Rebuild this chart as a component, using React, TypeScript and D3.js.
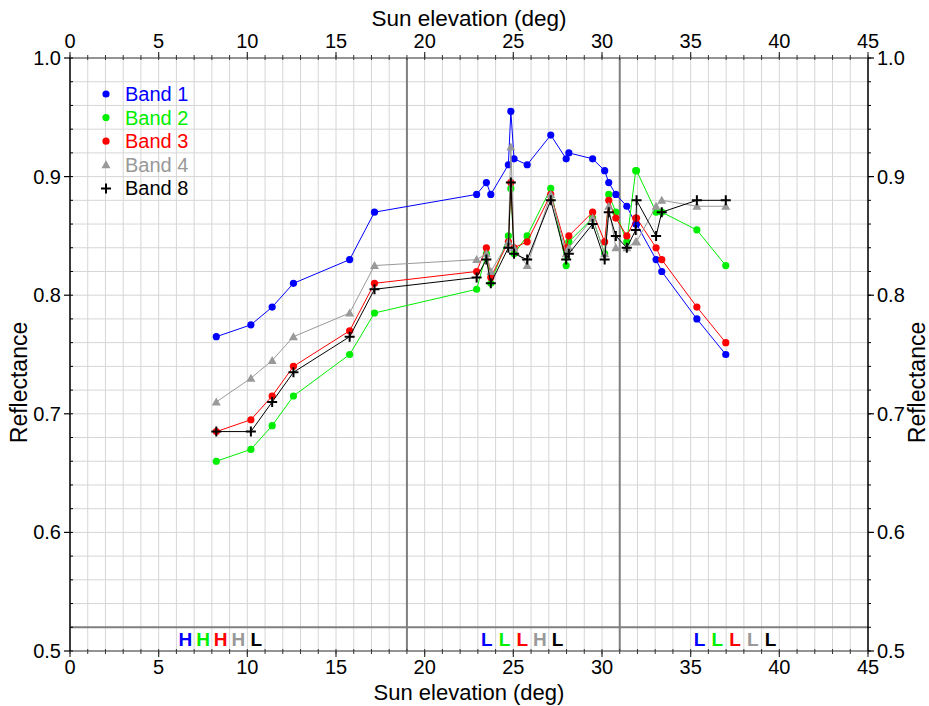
import React from "react";
import * as d3 from "d3";

const sunElevation = [8.25, 10.2, 11.4, 12.6, 15.77, 17.17, 22.93, 23.48, 23.73, 24.72, 24.86, 25.04, 25.78, 27.11, 27.98, 28.13, 29.47, 30.15, 30.38, 30.78, 31.4, 31.9, 31.95, 33.05, 33.37, 35.35, 36.98];
const band1 = [0.765, 0.775, 0.79, 0.81, 0.83, 0.87, 0.885, 0.895, 0.885, 0.91, 0.955, 0.915, 0.91, 0.935, 0.915, 0.92, 0.915, 0.905, 0.895, 0.885, 0.875, 0.86, 0.86, 0.83, 0.82, 0.78, 0.75];
const band2 = [0.66, 0.67, 0.69, 0.715, 0.75, 0.785, 0.805, 0.835, 0.81, 0.85, 0.89, 0.835, 0.85, 0.89, 0.825, 0.845, 0.865, 0.835, 0.885, 0.87, 0.845, 0.905, 0.905, 0.87, 0.87, 0.855, 0.825];
const band3 = [0.685, 0.695, 0.715, 0.74, 0.77, 0.81, 0.82, 0.84, 0.815, 0.845, 0.895, 0.84, 0.845, 0.885, 0.84, 0.85, 0.87, 0.845, 0.88, 0.865, 0.85, 0.865, 0.865, 0.84, 0.83, 0.79, 0.76];
const band4 = [0.71, 0.73, 0.745, 0.765, 0.785, 0.825, 0.83, 0.835, 0.82, 0.845, 0.925, 0.84, 0.825, 0.885, 0.835, 0.84, 0.865, 0.835, 0.875, 0.84, 0.84, 0.845, 0.845, 0.875, 0.88, 0.875, 0.875];
const band8 = [0.685, 0.685, 0.71, 0.735, 0.765, 0.805, 0.815, 0.83, 0.81, 0.84, 0.895, 0.835, 0.83, 0.88, 0.83, 0.835, 0.86, 0.83, 0.87, 0.85, 0.84, 0.855, 0.88, 0.85, 0.87, 0.88, 0.88];

const bandNames = ["Band 1", "Band 2", "Band 3", "Band 4", "Band 8"];
const bandColors = ["#0000ff", "#00ee00", "#ff0000", "#999999", "#000000"];
const bandMarkers = ["circle", "circle", "circle", "triangle", "cross"];
const bandValues = [band1, band2, band3, band4, band8];

const xTicks = [0, 5, 10, 15, 20, 25, 30, 35, 40, 45];
const yTicks = [0.5, 0.6, 0.7, 0.8, 0.9, 1.0];
const dividerX = [19, 31];
const dividerY = 0.52;

// flag letters: group start positions (sun elevation of first letter center) and letters per band
const flagStarts = [6.5, 23.5, 35.5];
const flagLetters = [
  ["H", "H", "H", "H", "L"],
  ["L", "L", "L", "H", "L"],
  ["L", "L", "L", "L", "L"],
];

const W = 929;
const H = 706;
const left = 70;
const right = 868;
const top = 58;
const bottom = 651;
const FONT = "'Liberation Sans', Arial, Helvetica, sans-serif";

function Marker({ kind, x, y, color }: { kind: string; x: number; y: number; color: string }) {
  if (kind === "circle") return <circle cx={x} cy={y} r={3.6} fill={color} />;
  if (kind === "triangle")
    return <path d={`M${x},${y - 4.5}L${x + 4.5},${y + 3.5}L${x - 4.5},${y + 3.5}Z`} fill={color} />;
  return (
    <path d={`M${x - 5},${y}H${x + 5}M${x},${y - 5}V${y + 5}`} stroke={color} strokeWidth={2} fill="none" />
  );
}

export default function App() {
  const x = d3.scaleLinear().domain([0, 45]).range([left, right]);
  const y = d3.scaleLinear().domain([0.5, 1.0]).range([bottom, top]);
  const minorX = d3.range(0, 46, 1);
  const minorY = d3.range(0, 26).map((i) => 0.5 + i * 0.02);
  const line = d3
    .line<[number, number]>()
    .x((d) => x(d[0]))
    .y((d) => y(d[1]));

  return (
    <svg width={W} height={H} style={{ position: "absolute", left: 0, top: 0, background: "#fff" }} fontFamily={FONT}>
      <rect width={W} height={H} fill="#fff" />
      {/* grid */}
      {minorX.map((v) => (
        <line key={"gx" + v} x1={x(v)} x2={x(v)} y1={top} y2={bottom} stroke="#d6d6d6" strokeWidth={1} />
      ))}
      {minorY.map((v, i) => (
        <line key={"gy" + i} x1={left} x2={right} y1={y(v)} y2={y(v)} stroke="#d6d6d6" strokeWidth={1} />
      ))}
      {/* dividers */}
      {dividerX.map((v) => (
        <line key={"dx" + v} x1={x(v)} x2={x(v)} y1={top} y2={bottom} stroke="#808080" strokeWidth={2} />
      ))}
      <line x1={left} x2={right} y1={y(dividerY)} y2={y(dividerY)} stroke="#808080" strokeWidth={2} />

      {/* axes */}
      <line x1={left} x2={right} y1={top} y2={top} stroke="#777" strokeWidth={1.5} />
      <line x1={left} x2={right} y1={bottom} y2={bottom} stroke="#777" strokeWidth={1.5} />
      <line x1={left} x2={left} y1={top} y2={bottom} stroke="#000" strokeWidth={1.5} />
      <line x1={right} x2={right} y1={top} y2={bottom} stroke="#000" strokeWidth={1.5} />

      {/* minor ticks */}
      {minorX.map((v) => (
        <g key={"tx" + v}>
          <line x1={x(v)} x2={x(v)} y1={top - 3} y2={top + 2} stroke="#333" />
          <line x1={x(v)} x2={x(v)} y1={bottom - 2} y2={bottom + 3} stroke="#333" />
        </g>
      ))}
      {minorY.map((v, i) => (
        <g key={"ty" + i}>
          <line x1={left} x2={left + 3} y1={y(v)} y2={y(v)} stroke="#000" />
          <line x1={right} x2={right + 3} y1={y(v)} y2={y(v)} stroke="#000" />
        </g>
      ))}
      {/* major ticks + labels */}
      {xTicks.map((v) => (
        <g key={"mx" + v}>
          <line x1={x(v)} x2={x(v)} y1={top - 6} y2={top} stroke="#333" strokeWidth={1.2} />
          <line x1={x(v)} x2={x(v)} y1={bottom} y2={bottom + 6} stroke="#333" strokeWidth={1.2} />
          <text x={x(v)} y={48} textAnchor="middle" fontSize={20}>
            {v}
          </text>
          <text x={x(v)} y={674} textAnchor="middle" fontSize={20}>
            {v}
          </text>
        </g>
      ))}
      {yTicks.map((v) => (
        <g key={"my" + v}>
          <line x1={left - 6} x2={left} y1={y(v)} y2={y(v)} stroke="#000" strokeWidth={1.2} />
          <line x1={right} x2={right + 6} y1={y(v)} y2={y(v)} stroke="#000" strokeWidth={1.2} />
          <text x={left - 9} y={y(v) + 7} textAnchor="end" fontSize={20}>
            {v.toFixed(1)}
          </text>
          <text x={right + 9} y={y(v) + 7} textAnchor="start" fontSize={20}>
            {v.toFixed(1)}
          </text>
        </g>
      ))}

      {/* axis titles */}
      <text x={(left + right) / 2} y={26} textAnchor="middle" fontSize={22.5}>
        Sun elevation (deg)
      </text>
      <text x={(left + right) / 2} y={700} textAnchor="middle" fontSize={22}>
        Sun elevation (deg)
      </text>
      <text transform={`translate(27,${(top + bottom) / 2 + 28}) rotate(-90)`} textAnchor="middle" fontSize={23}>
        Reflectance
      </text>
      <text transform={`translate(925,${(top + bottom) / 2 + 28}) rotate(-90)`} textAnchor="middle" fontSize={23}>
        Reflectance
      </text>

      {/* flag letters */}
      {flagLetters.map((row, gi) =>
        row.map((ch, bi) => (
          <text
            key={"f" + gi + bi}
            x={x(flagStarts[gi] + bi)}
            y={646}
            textAnchor="middle"
            fontSize={19}
            fontWeight="bold"
            fill={bandColors[bi]}
          >
            {ch}
          </text>
        ))
      )}

      {/* series */}
      {bandValues.map((vals, bi) => {
        const pts = sunElevation.map((s, i) => [s, vals[i]] as [number, number]);
        return (
          <g key={"s" + bi}>
            <path d={line(pts) || ""} fill="none" stroke={bandColors[bi]} strokeWidth={1} />
            {pts.map((p, i) => (
              <Marker key={i} kind={bandMarkers[bi]} x={x(p[0])} y={y(p[1])} color={bandColors[bi]} />
            ))}
          </g>
        );
      })}

      {/* legend */}
      {bandNames.map((n, bi) => (
        <g key={"l" + bi}>
          <Marker kind={bandMarkers[bi]} x={106} y={94 + bi * 23.6} color={bandColors[bi]} />
          <text x={125} y={94 + bi * 23.6 + 7} fontSize={20} fill={bandColors[bi]}>
            {n}
          </text>
        </g>
      ))}
    </svg>
  );
}
